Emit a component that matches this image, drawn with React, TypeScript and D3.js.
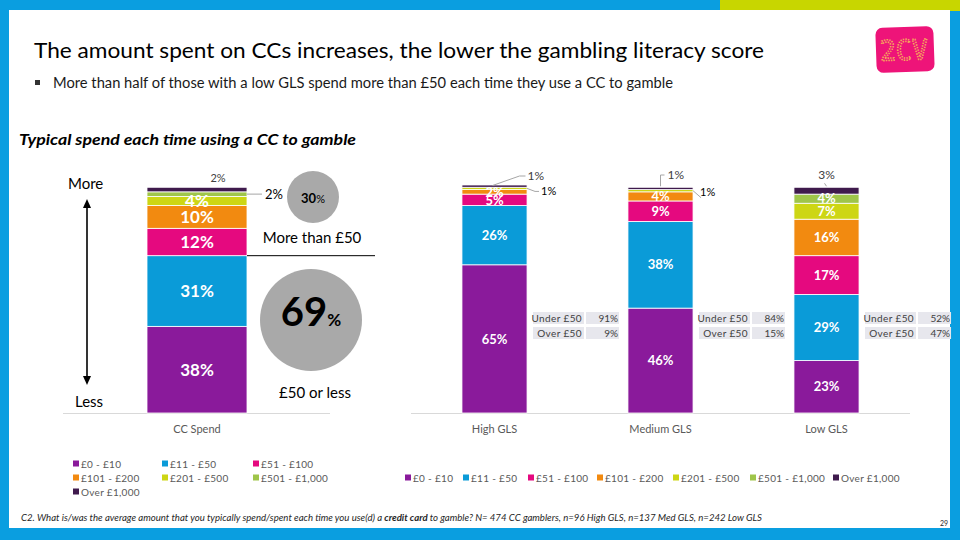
import React from "react";
import * as d3 from "d3";

// ---------- data ----------
const spendBands = ["£0 - £10", "£11 - £50", "£51 - £100", "£101 - £200", "£201 - £500", "£501 - £1,000", "Over £1,000"];
const bandColors = ["#8a1a9b", "#0a9bd8", "#e5097f", "#f28a10", "#cdd614", "#9fc54a", "#3f1a4d"];

const ccCategory = ["CC Spend"];
const ccSpendValues = [38, 31, 12, 10, 4, 2, 2];

const glsCategories = ["High GLS", "Medium GLS", "Low GLS"];
const highGLS = [65, 26, 5, 2, 1, 0, 1];
const mediumGLS = [46, 38, 9, 4, 1, 0, 1];
const lowGLS = [23, 29, 17, 16, 7, 4, 3];

const underOverLabels = ["Under £50", "Over £50"];
const underOverHigh = [91, 9];
const underOverMedium = [84, 15];
const underOverLow = [52, 47];

const circleLabels = ["More than £50", "£50 or less"];
const circlePercents = [30, 69];

const FONT = "Lato, 'Open Sans', sans-serif";

// ---------- helpers ----------
const y = d3.scaleLinear().domain([0, 100]).range([413, 185]);

function segments(values: number[]) {
  const cum = d3.cumsum(values);
  return values.map((v, i) => ({ v, i, y0: i === 0 ? 0 : cum[i - 1], y1: cum[i] }));
}

function StackBar({ x, w, values, minLabel, fontSize }: { x: number; w: number; values: number[]; minLabel: number; fontSize: number }) {
  const segs = segments(values);
  return (
    <g>
      {segs.filter((s) => s.v > 0).map((s) => (
        <rect key={"r" + s.i} x={x} y={y(s.y1)} width={w} height={y(s.y0) - y(s.y1)} fill={bandColors[s.i]} stroke="#ffffff" strokeWidth={0.8} />
      ))}
      {segs.filter((s) => s.v >= minLabel && s.i < 6).map((s) => (
        <text key={"t" + s.i} x={x + w / 2} y={(y(s.y0) + y(s.y1)) / 2} dy="0.36em" textAnchor="middle" fill="#ffffff" fontWeight={700} fontSize={fontSize} fontFamily={FONT}>
          {s.v}%
        </text>
      ))}
    </g>
  );
}

function segMid(values: number[], i: number) {
  const s = segments(values)[i];
  return (y(s.y0) + y(s.y1)) / 2;
}
function barTop(values: number[]) {
  return y(d3.sum(values));
}

function Table({ x, vals }: { x: number; vals: number[] }) {
  return (
    <g fontFamily={FONT} fontSize={10} fill="#404040">
      {underOverLabels.map((lab, r) => (
        <g key={lab}>
          <rect x={x} y={312 + r * 15} width={51} height={12} fill="#e7e7ed" />
          <rect x={x + 53} y={312 + r * 15} width={33} height={12} fill="#e7e7ed" />
          <text x={x + 49} y={312 + r * 15 + 9.5} textAnchor="end" fill="#404040" letterSpacing={0.4}>{lab}</text>
          <text x={x + 85} y={312 + r * 15 + 9.5} textAnchor="end" fill="#404040">{vals[r]}%</text>
        </g>
      ))}
    </g>
  );
}

export default function App() {
  const xLeft = d3.scaleBand().domain(ccCategory).range([97, 297]).paddingInner(0).paddingOuter(0.5);
  const xGls = d3.scaleBand().domain(glsCategories).range([411.5, 909.5]).paddingInner(0.608).paddingOuter(0.304);
  const glsData = [highGLS, mediumGLS, lowGLS];
  const tables = [underOverHigh, underOverMedium, underOverLow];

  const lx = xLeft("CC Spend")!;
  const lw = xLeft.bandwidth();
  const gw = xGls.bandwidth();

  const hx = xGls("High GLS")!;
  const mx = xGls("Medium GLS")!;
  const lowx = xGls("Low GLS")!;

  const legendLeft = [
    [73, 464], [162, 464], [253, 464],
    [73, 478], [162, 478], [253, 478],
    [73, 492],
  ];
  const legendMidX = [405, 463, 528, 597, 673, 750, 833];

  return (
    <svg width={960} height={540} style={{ position: "absolute", left: 0, top: 0 }} fontFamily={FONT}>
      {/* frame */}
      <rect x={0} y={0} width={960} height={540} fill="#0a9ee0" />
      <rect x={720} y={0} width={240} height={11} fill="#c8d600" />
      <rect x={9} y={10} width={941} height={518} fill="#ffffff" />

      {/* title */}
      <text x={34} y={58} fontSize={22} fill="#000" textLength={730} lengthAdjust="spacingAndGlyphs">
        The amount spent on CCs increases, the lower the gambling literacy score
      </text>
      <rect x={35} y={80} width={5} height={5} fill="#333" />
      <text x={53} y={88} fontSize={14.5} fill="#1a1a1a" textLength={620} lengthAdjust="spacingAndGlyphs">
        More than half of those with a low GLS spend more than £50 each time they use a CC to gamble
      </text>

      {/* logo */}
      <g transform="rotate(-2 905 50)">
        <rect x={876} y={27} width={58} height={45} rx={7} fill="#ee1479" />
        <text x={880} y={60} fontSize={28} fill="none" stroke="#f6ad5a" strokeWidth={1.6} strokeDasharray="1.4 1.3" textLength={48} lengthAdjust="spacingAndGlyphs" fontFamily="'DejaVu Sans Mono', monospace">2CV</text>
      </g>

      <text x={19} y={145} fontSize={15.5} fontStyle="italic" fontWeight={700} fill="#000" textLength={337} lengthAdjust="spacingAndGlyphs">
        Typical spend each time using a CC to gamble
      </text>

      {/* left chart */}
      <text x={68} y={189} fontSize={15} fill="#000">More</text>
      <text x={75} y={407} fontSize={15} fill="#000">Less</text>
      <line x1={87} y1={206} x2={87} y2={378} stroke="#000" strokeWidth={1.6} />
      <path d="M87,199 L83,208 L91,208 Z" fill="#000" />
      <path d="M87,385 L83,376 L91,376 Z" fill="#000" />

      <line x1={63} y1={413.5} x2={330} y2={413.5} stroke="#d9d9d9" strokeWidth={1} />
      <StackBar x={lx} w={lw} values={ccSpendValues} minLabel={4} fontSize={17} />
      <text x={lx + lw / 2 + 21} y={barTop(ccSpendValues) - 5} textAnchor="middle" fontSize={11} fill="#404040">{ccSpendValues[6]}%</text>
      <line x1={lx + lw} y1={segMid(ccSpendValues, 5)} x2={262} y2={segMid(ccSpendValues, 5)} stroke="#a6a6a6" strokeWidth={1} />
      <text x={265} y={segMid(ccSpendValues, 5)} dy="0.36em" fontSize={13} fill="#000">{ccSpendValues[5]}%</text>
      <text x={lx + lw / 2} y={433} textAnchor="middle" fontSize={11} fill="#595959">{ccCategory[0]}</text>

      {/* circles */}
      <circle cx={313} cy={197} r={26} fill="#a9a9a9" />
      <text x={313} y={197} dy="0.36em" textAnchor="middle" fill="#000">
        <tspan fontSize={13} fontWeight={700}>{circlePercents[0]}</tspan>
        <tspan fontSize={11}>%</tspan>
      </text>
      <text x={312} y={243} textAnchor="middle" fontSize={15} fill="#000">{circleLabels[0]}</text>
      <line x1={lx + lw} y1={y(ccSpendValues[0] + ccSpendValues[1])} x2={375} y2={y(ccSpendValues[0] + ccSpendValues[1])} stroke="#000" strokeWidth={1} />
      <circle cx={311} cy={320} r={51} fill="#a9a9a9" />
      <text x={311} y={320} dy="0.36em" textAnchor="middle" fill="#000">
        <tspan fontSize={40} fontWeight={700}>{circlePercents[1]}</tspan>
        <tspan fontSize={17} fontWeight={700}>%</tspan>
      </text>
      <text x={315} y={398} textAnchor="middle" fontSize={15} fill="#000">{circleLabels[1]}</text>

      {/* GLS chart */}
      <line x1={411} y1={413.5} x2={910} y2={413.5} stroke="#d9d9d9" strokeWidth={1} />
      {glsCategories.map((c, k) => (
        <g key={c}>
          <StackBar x={xGls(c)!} w={gw} values={glsData[k]} minLabel={2} fontSize={13} />
          <text x={xGls(c)! + gw / 2} y={433} textAnchor="middle" fontSize={11} fill="#595959">{c}</text>
          <Table x={xGls(c)! + gw + 6} vals={tables[k]} />
        </g>
      ))}

      {/* leader labels: High */}
      <polyline points={`${hx + gw / 2 - 2},${barTop(highGLS) + 0.5} ${hx + gw / 2 + 25},${176} ${hx + gw / 2 + 31},${176}`} fill="none" stroke="#a6a6a6" strokeWidth={1} />
      <text x={hx + gw / 2 + 33} y={176} dy="0.36em" fontSize={12} fill="#404040">{highGLS[6]}%</text>
      <polyline points={`${hx + gw},${segMid(highGLS, 4)} ${hx + gw + 8},${segMid(highGLS, 4) + 3} ${hx + gw + 12},${segMid(highGLS, 4) + 3}`} fill="none" stroke="#a6a6a6" strokeWidth={1} />
      <text x={hx + gw + 14} y={segMid(highGLS, 4) + 3} dy="0.36em" fontSize={11} fill="#000">{highGLS[4]}%</text>

      {/* leader labels: Medium */}
      <polyline points={`${mx + gw / 2},${barTop(mediumGLS) - 1} ${mx + gw / 2},${175} ${mx + gw / 2 + 4},${175}`} fill="none" stroke="#a6a6a6" strokeWidth={1} />
      <text x={mx + gw / 2 + 7} y={175} dy="0.36em" fontSize={12} fill="#404040">{mediumGLS[6]}%</text>
      <line x1={mx + gw} y1={segMid(mediumGLS, 4)} x2={mx + gw + 8} y2={segMid(mediumGLS, 4) + 7} stroke="#a6a6a6" strokeWidth={1} />
      <text x={mx + gw + 7} y={segMid(mediumGLS, 4) + 1} dy="0.36em" fontSize={11} fill="#000">{mediumGLS[4]}%</text>

      {/* leader label: Low */}
      <line x1={lowx + gw / 2} y1={barTop(lowGLS) - 1} x2={lowx + gw / 2 - 2} y2={barTop(lowGLS) - 4} stroke="#a6a6a6" strokeWidth={1} />
      <text x={lowx + gw / 2} y={175} dy="0.36em" textAnchor="middle" fontSize={12} fill="#404040">{lowGLS[6]}%</text>

      {/* legends */}
      {spendBands.map((b, i) => (
        <g key={"ll" + b}>
          <rect x={legendLeft[i][0]} y={legendLeft[i][1] - 3.5} width={6} height={6} fill={bandColors[i]} />
          <text x={legendLeft[i][0] + 8} y={legendLeft[i][1]} dy="0.35em" fontSize={10} fill="#595959" letterSpacing={0.3}>{b}</text>
        </g>
      ))}
      {spendBands.map((b, i) => (
        <g key={"lm" + b}>
          <rect x={legendMidX[i]} y={478 - 3.5} width={6} height={6} fill={bandColors[i]} />
          <text x={legendMidX[i] + 8} y={478} dy="0.35em" fontSize={10} fill="#595959" letterSpacing={0.3}>{b}</text>
        </g>
      ))}

      {/* footnote */}
      <text x={21} y={521} fontSize={9} fontStyle="italic" fill="#262626" textLength={741} lengthAdjust="spacingAndGlyphs">
        C2. What is/was the average amount that you typically spend/spent each time you use(d) a <tspan fontWeight={700}>credit card</tspan> to gamble? N= 474 CC gamblers, n=96 High GLS, n=137 Med GLS, n=242 Low GLS
      </text>
      <text x={944} y={526} fontSize={7} textAnchor="middle" fill="#262626">29</text>
    </svg>
  );
}
